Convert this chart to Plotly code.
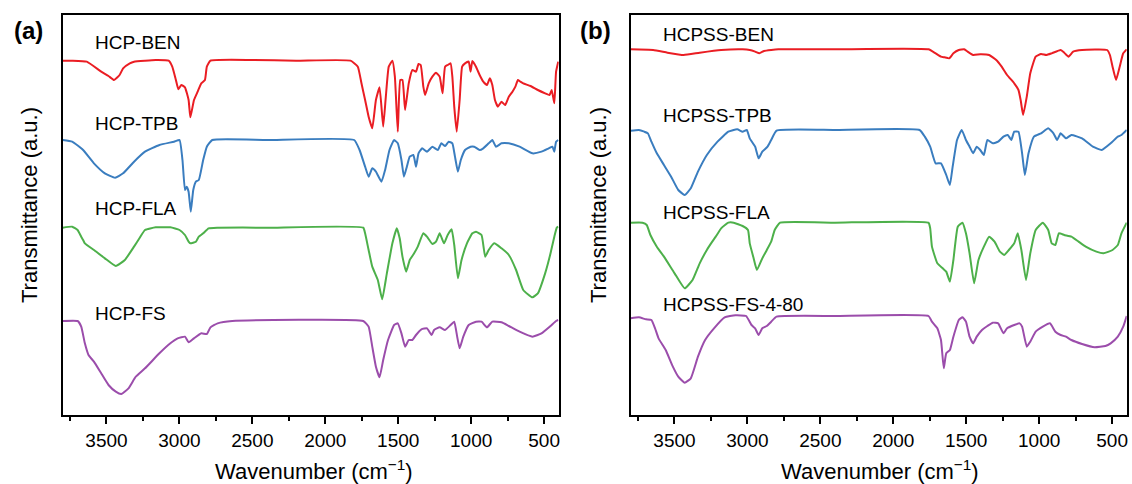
import plotly.graph_objects as go

# ---------------- data (wavenumber cm-1, transmittance a.u. incl. vertical offset) -------------
HCP_BEN = [(3800,1063),(3735,1063),(3635,1060),(3536,1030),(3486,1017),(3448,1005),(3410,1020),(3386,1040),
           (3340,1055),(3311,1060),(3236,1063),(3162,1065),(3074,1063),(3049,1045),(3024,1005),(3007,977),
           (2987,990),(2962,983),(2937,945),(2925,893),(2900,945),(2875,970),(2850,995),(2825,1005),(2812,1045),
           (2787,1063),(2500,1065),(2200,1063),(1827,1063),(1777,1045),(1752,995),(1727,945),(1703,895),(1678,860),
           (1653,945),(1628,983),(1603,865),(1585,955),(1565,1045),(1540,1063),(1523,1015),(1503,850),(1486,1005),
           (1471,1005),(1453,915),(1428,995),(1403,1035),(1378,1030),(1361,1053),(1346,1050),(1328,985),(1316,960),
           (1291,995),(1266,1015),(1241,1027),(1216,1015),(1196,965),(1179,1045),(1161,1050),(1141,1055),(1129,1015),
           (1116,925),(1099,850),(1079,945),(1062,1045),(1042,1055),(1017,1060),(1004,1030),(992,1062),(967,1045),
           (942,1020),(917,1000),(892,990),(872,1010),(855,990),(837,945),(817,925),(792,940),(767,930),(742,955),
           (717,970),(697,985),(680,1005),(663,1000),(643,995),(593,987),(543,975),(493,965),(463,960),(448,975),
           (430,935),(418,1030),(403,1060)]

HCP_TPB = [(3800,825),(3735,820),(3660,795),(3586,755),(3511,725),(3441,712),(3386,725),(3311,760),(3236,790),
           (3137,810),(3037,820),(2999,825),(2979,765),(2962,675),(2950,685),(2937,670),(2922,610),(2905,675),
           (2887,700),(2867,705),(2837,765),(2812,805),(2775,825),(2400,825),(1802,825),(1765,795),(1727,745),
           (1703,715),(1678,740),(1653,730),(1615,700),(1590,735),(1560,795),(1528,825),(1503,815),(1478,765),
           (1461,715),(1441,745),(1421,775),(1396,780),(1378,745),(1361,785),(1336,800),(1303,790),(1266,805),
           (1229,795),(1204,815),(1179,807),(1154,820),(1129,815),(1111,775),(1091,730),(1071,765),(1042,795),
           (1004,805),(979,805),(942,795),(917,800),(880,815),(855,825),(830,805),(792,815),(742,815),(668,805),
           (580,785),(518,790),(468,800),(443,805),(430,790),(418,820),(403,825)]

HCP_FLA = [(3800,562),(3735,565),(3698,555),(3673,535),(3660,525),(3648,515),(3586,495),(3511,470),(3436,447),
           (3374,465),(3311,505),(3274,530),(3236,555),(3162,563),(3062,563),(2999,555),(2962,540),(2937,520),
           (2925,515),(2887,520),(2867,535),(2837,545),(2800,560),(2738,562),(2400,562),(1740,562),(1727,545),
           (1703,495),(1678,445),(1640,405),(1610,347),(1578,425),(1540,515),(1510,560),(1490,530),(1471,475),
           (1446,430),(1421,465),(1391,485),(1366,505),(1328,545),(1303,535),(1266,513),(1241,520),(1216,545),
           (1186,515),(1161,540),(1134,557),(1116,510),(1091,410),(1066,465),(1029,515),(992,545),(967,550),
           (929,540),(904,475),(880,495),(842,515),(792,500),(742,480),(692,435),(643,375),(580,353),(543,365),
           (493,425),(456,485),(430,535),(413,562),(403,565)]

HCP_FS = [(3800,282),(3698,282),(3673,265),(3648,215),(3623,180),(3586,160),(3536,125),(3486,90),(3436,70),
          (3398,63),(3349,80),(3299,115),(3236,140),(3137,185),(3062,215),(3012,230),(2962,235),(2937,218),
          (2900,230),(2850,245),(2812,243),(2787,263),(2738,275),(2638,282),(1740,282),(1703,265),(1678,205),
          (1653,145),(1628,113),(1603,165),(1570,225),(1528,270),(1503,275),(1478,245),(1453,205),(1428,225),
          (1403,225),(1378,240),(1341,257),(1303,260),(1271,240),(1254,255),(1216,263),(1179,255),(1141,270),
          (1116,280),(1096,235),(1079,200),(1054,235),(1017,270),(967,280),(929,280),(892,263),(855,280),
          (792,278),(742,267),(668,250),(580,235),(518,245),(456,267),(418,282),(403,285)]

HCPSS_BEN = [(3800,1097),(3646,1095),(3548,1087),(3437,1080),(3327,1087),(3180,1095),(3033,1097),(2984,1095),
             (2947,1090),(2918,1085),(2886,1092),(2837,1095),(2788,1097),(2400,1097),(1759,1097),(1710,1085),
             (1673,1075),(1649,1073),(1617,1070),(1588,1085),(1551,1095),(1514,1097),(1490,1090),(1453,1080),
             (1404,1082),(1343,1080),(1294,1065),(1257,1045),(1220,1020),(1171,995),(1142,975),(1127,945),
             (1110,900),(1085,955),(1061,1025),(1024,1075),(987,1083),(951,1080),(914,1085),(853,1095),(828,1087),
             (799,1075),(767,1090),(706,1095),(534,1095),(515,1080),(497,1045),(473,1005),(448,1045),(424,1085),
             (400,1097)]

HCPSS_TPB = [(3800,853),(3744,855),(3707,850),(3682,845),(3658,820),(3621,785),(3572,750),(3523,715),(3474,675),
             (3430,660),(3388,680),(3339,730),(3278,780),(3205,820),(3131,850),(3070,857),(3033,850),(3004,855),
             (2984,830),(2947,805),(2923,770),(2898,790),(2862,805),(2837,825),(2800,853),(2400,855),(1820,855),
             (1784,835),(1747,805),(1710,755),(1673,755),(1637,720),(1612,690),(1593,745),(1563,825),(1531,855),
             (1502,825),(1477,805),(1453,785),(1428,805),(1404,795),(1379,780),(1355,825),(1318,815),(1281,820),
             (1245,835),(1215,840),(1191,825),(1171,850),(1142,850),(1117,785),(1098,720),(1073,785),(1036,835),
             (987,845),(938,860),(902,845),(877,825),(853,845),(816,830),(779,840),(706,830),(632,805),(571,795),
             (510,815),(461,835),(436,840),(400,855)]

HCPSS_FLA = [(3800,577),(3719,577),(3690,570),(3665,540),(3621,505),(3572,475),(3499,425),(3430,380),(3376,405),
             (3327,455),(3278,495),(3241,520),(3217,535),(3180,560),(3131,577),(3094,577),(3033,567),(2996,555),
             (2984,515),(2960,475),(2935,435),(2898,470),(2867,495),(2837,520),(2813,555),(2776,577),(2400,577),
             (1759,577),(1747,560),(1735,505),(1698,455),(1661,440),(1637,430),(1612,400),(1588,465),(1558,565),
             (1526,577),(1502,545),(1477,485),(1446,395),(1416,465),(1379,505),(1343,535),(1306,520),(1269,490),
             (1240,480),(1208,495),(1171,515),(1147,545),(1122,495),(1090,405),(1061,485),(1024,555),(975,577),
             (938,555),(914,515),(889,510),(865,545),(828,540),(779,535),(730,520),(681,505),(608,490),(559,485),
             (497,495),(461,510),(436,545),(400,577)]

HCPSS_FS = [(3800,290),(3744,293),(3695,287),(3658,285),(3633,260),(3609,230),(3560,195),(3511,145),(3474,115),
            (3430,97),(3388,110),(3339,175),(3290,225),(3229,260),(3156,293),(3082,299),(3009,297),(2972,270),
            (2947,260),(2923,240),(2898,260),(2867,267),(2837,280),(2800,295),(2400,297),(1759,297),(1735,280),
            (1698,260),(1673,225),(1654,140),(1637,185),(1612,195),(1588,235),(1551,285),(1526,293),(1502,280),
            (1477,235),(1453,215),(1428,235),(1392,255),(1355,267),(1318,277),(1281,275),(1245,245),(1220,260),
            (1171,270),(1134,275),(1117,265),(1085,205),(1061,220),(1024,250),(975,265),(926,275),(889,250),
            (853,240),(816,235),(779,225),(706,213),(620,203),(546,207),(510,215),(461,235),(424,265),(400,297)]

PANEL_A = [("HCP-BEN", HCP_BEN, 1116), ("HCP-TPB", HCP_TPB, 873),
           ("HCP-FLA", HCP_FLA, 618), ("HCP-FS", HCP_FS, 306)]
PANEL_B = [("HCPSS-BEN", HCPSS_BEN, 1140), ("HCPSS-TPB", HCPSS_TPB, 897),
           ("HCPSS-FLA", HCPSS_FLA, 606), ("HCPSS-FS-4-80", HCPSS_FS, 333)]

COLORS = ["#EA1D23", "#3A7DBF", "#4DB04A", "#9B4DAB"]
TICKS = [3500, 3000, 2500, 2000, 1500, 1000, 500]
MINOR = [3750, 3250, 2750, 2250, 1750, 1250, 750]
FONT = "Liberation Sans, Arial, sans-serif"

W, H = 1132, 484
fig = go.Figure()

for panel, (xa, ya) in zip([PANEL_A, PANEL_B], [("x", "y"), ("x2", "y2")]):
    for (name, data, lab_y), col in zip(panel, COLORS):
        fig.add_trace(go.Scatter(
            x=[p[0] for p in data], y=[p[1] for p in data],
            mode="lines", name=name, xaxis=xa, yaxis=ya,
            line=dict(color=col, width=2, shape="spline", smoothing=0.4),
            showlegend=False, hoverinfo="skip"))
        fig.add_annotation(x=3590, y=lab_y, xref=xa, yref=ya, text=name,
                           showarrow=False, xanchor="left", yanchor="middle",
                           font=dict(family=FONT, size=19, color="black"))

ydom = [1 - 415 / H, 1 - 15 / H]
xdomA = [62.7 / W, 558.7 / W]
xdomB = [630.7 / W, 1126.7 / W]

def xaxis_cfg(dom, anchor):
    return dict(domain=dom, anchor=anchor, range=[3800, 400], autorange=False,
                tickmode="array", tickvals=TICKS, ticktext=[str(t) for t in TICKS],
                ticks="outside", ticklen=7, tickwidth=2, tickcolor="black",
                minor=dict(ticks="outside", ticklen=4, tickwidth=2, tickcolor="black",
                           tickmode="array", tickvals=MINOR),
                showline=True, linewidth=2, linecolor="black", mirror=True,
                showgrid=False, zeroline=False,
                tickfont=dict(family=FONT, size=19, color="black"))

def yaxis_cfg(anchor):
    return dict(domain=ydom, anchor=anchor, range=[0, 1200], autorange=False,
                showticklabels=False, ticks="", showline=True, linewidth=2,
                linecolor="black", mirror=True, showgrid=False, zeroline=False)

fig.update_layout(
    width=W, height=H, margin=dict(l=0, r=0, t=0, b=0),
    paper_bgcolor="white", plot_bgcolor="white",
    xaxis=xaxis_cfg(xdomA, "y"), yaxis=yaxis_cfg("x"),
    xaxis2=xaxis_cfg(xdomB, "y2"), yaxis2=yaxis_cfg("x2"),
)

# panel letters and axis titles
for txt, px, py in [("<b>(a)</b>", 28, 31), ("<b>(b)</b>", 595, 31)]:
    fig.add_annotation(x=px / W, y=1 - py / H, xref="paper", yref="paper", text=txt,
                       showarrow=False, xanchor="center", yanchor="middle",
                       font=dict(family=FONT, size=24, color="black"))
for px in [29, 598]:
    fig.add_annotation(x=px / W, y=1 - 205 / H, xref="paper", yref="paper",
                       text="Transmittance (a.u.)", textangle=-90, showarrow=False,
                       xanchor="center", yanchor="middle",
                       font=dict(family=FONT, size=22, color="black"))
for px in [314, 880]:
    fig.add_annotation(x=px / W, y=1 - 470 / H, xref="paper", yref="paper",
                       text="Wavenumber (cm<sup>\u22121</sup>)", showarrow=False,
                       xanchor="center", yanchor="middle",
                       font=dict(family=FONT, size=22, color="black"))

fig.write_html("out.html", config={"displayModeBar": False},
               post_script="document.body.style.margin='0px';document.body.style.padding='0px';")
